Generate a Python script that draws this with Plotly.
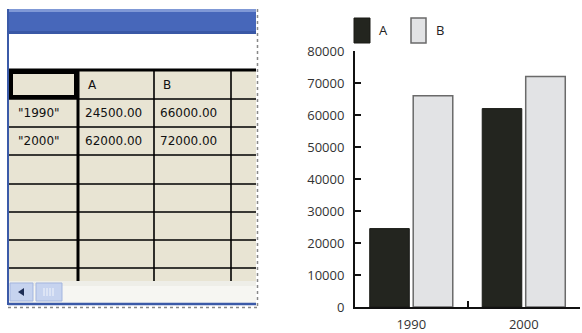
import plotly.graph_objects as go

# ---- data ----
years = ["1990", "2000"]
series_a = [24500, 62000]
series_b = [66000, 72000]
series_names = ["A", "B"]
y_ticks = [0, 10000, 20000, 30000, 40000, 50000, 60000, 70000, 80000]
y_tick_labels = [str(v) for v in y_ticks]

W, H = 582, 333


def px(x):
    return x / W


def py(y):
    return 1 - y / H


fig = go.Figure()

dark = "#23251f"
light = "#e2e3e5"

fig.add_trace(go.Bar(x=years, y=series_a, name=series_names[0],
                     marker=dict(color=dark, line=dict(color="#1a1b17", width=1))))
fig.add_trace(go.Bar(x=years, y=series_b, name=series_names[1],
                     marker=dict(color=light, line=dict(color="#6a6a6a", width=1.5))))

shapes = []
annotations = []


def rect(x0, y0, x1, y1, fill=None, line_color=None, lw=0, dash=None, layer="above"):
    d = dict(type="rect", xref="paper", yref="paper",
             x0=px(x0), x1=px(x1), y0=py(y1), y1=py(y0), layer=layer,
             line=dict(width=lw, color=line_color or "rgba(0,0,0,0)"))
    if dash:
        d["line"]["dash"] = dash
    if fill:
        d["fillcolor"] = fill
    shapes.append(d)


def line(x0, y0, x1, y1, color="#000", lw=1.5, dash=None):
    d = dict(type="line", xref="paper", yref="paper",
             x0=px(x0), x1=px(x1), y0=py(y0), y1=py(y1),
             line=dict(color=color, width=lw))
    if dash:
        d["line"]["dash"] = dash
    shapes.append(d)


def text(x, y, s, size=12, anchor="left", color="#111", family="DejaVu Sans"):
    annotations.append(dict(x=px(x), y=py(y), xref="paper", yref="paper", text=s,
                            showarrow=False, xanchor=anchor, yanchor="middle",
                            font=dict(size=size, color=color, family=family)))


# ---- table widget ----
rect(8, 9, 256, 70, fill="#ffffff")
rect(8, 9, 256, 34, fill="#4767ba")
rect(8, 9, 256, 12, fill="#7f98d6")
rect(8, 31, 256, 34, fill="#3a58a6")
rect(9, 70, 256, 281, fill="#e8e4d3")
for yy in [99, 127, 155, 184, 212, 240, 268]:
    line(9, yy, 256, yy, lw=1.6)
line(9, 70, 256, 70, lw=3)
line(78, 70, 78, 281, lw=3)
for xx in [154, 231]:
    line(xx, 70, xx, 281, lw=1.6)
rect(11, 72, 76, 97, fill="#e8e4d3", line_color="#000", lw=4)
# scrollbar
rect(9, 281, 256, 303, fill="#f6f6f2")
rect(9, 281, 256, 286, fill="#eeeee8")
rect(10, 283, 33, 301, fill="#c6d3ef", line_color="#a3b5df", lw=1)
shapes.append(dict(type="path", xref="paper", yref="paper",
                   path=f"M {px(18)},{py(292)} L {px(24)},{py(288)} L {px(24)},{py(296)} Z",
                   fillcolor="#1d2d55", line=dict(width=0)))
rect(36, 283, 62, 301, fill="#c6d3ef", line_color="#a3b5df", lw=1)
for xx in [44, 47, 50, 53]:
    line(xx, 288, xx, 296, color="#f2f5fb", lw=1)
line(8, 9, 8, 305, color="#3b5aa8", lw=2)
line(8, 304, 256, 304, color="#3b5aa8", lw=2.5)
line(257.5, 9, 257.5, 307, color="#888888", lw=1.5, dash="dot")
line(8, 307.5, 257.5, 307.5, color="#888888", lw=1.5, dash="dot")

# table text from data
text(86, 85, series_names[0])
text(161, 85, series_names[1])
for i, yr in enumerate(years):
    yy = 113 + 28 * i
    text(16, yy, f'"{yr}"')
    text(83, yy, f"{series_a[i]:.2f}")
    text(158, yy, f"{series_b[i]:.2f}")

# ---- legend (manual) ----
rect(354, 18, 370, 43, fill=dark, line_color="#1a1b17", lw=1)
text(377, 30, series_names[0], size=13, color="#222", family="Open Sans")
rect(411, 18, 426, 43, fill=light, line_color="#6a6a6a", lw=1.5)
text(434, 30, series_names[1], size=13, color="#222", family="Open Sans")

fig.update_layout(
    width=W, height=H, autosize=False,
    margin=dict(l=0, r=0, t=0, b=0),
    paper_bgcolor="white", plot_bgcolor="white",
    showlegend=False,
    barmode="group", bargap=0.227, bargroupgap=0.09,
    shapes=shapes, annotations=annotations,
    font=dict(family="Open Sans", size=13, color="#333"),
    xaxis=dict(domain=[px(355), px(580)], type="category", range=[-0.5, 1.5],
               automargin=False,
               showline=True, linecolor="#111", linewidth=2,
               ticks="inside", tickson="boundaries", ticklen=6, tickwidth=2, tickcolor="#111",
               showgrid=False, zeroline=False, ticklabelstandoff=4,
               tickfont=dict(family="Open Sans", size=13, color="#333")),
    yaxis=dict(domain=[py(307), py(51)], range=[0, 80000],
               automargin=False,
               tickvals=y_ticks, ticktext=y_tick_labels,
               showline=True, linecolor="#111", linewidth=2,
               ticks="inside", ticklen=6, tickwidth=2, tickcolor="#111",
               showgrid=False, zeroline=False, ticklabelstandoff=6,
               tickfont=dict(family="Open Sans", size=13, color="#333")),
)

fig.write_html("out.html",
               config={"responsive": False, "displayModeBar": False},
               post_script="document.body.style.margin='0';document.body.style.overflow='hidden';")
